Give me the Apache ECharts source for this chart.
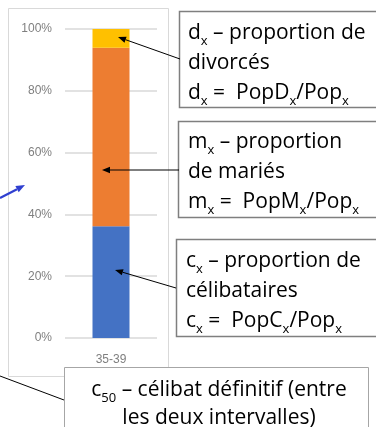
<!DOCTYPE html>
<html>
<head>
<meta charset="utf-8">
<script src="https://cdn.jsdelivr.net/npm/echarts@6/dist/echarts.min.js"></script>
<style>
  html, body { margin: 0; padding: 0; background: #ffffff; }
  #chart { width: 376px; height: 427px; }
</style>
</head>
<body>
<div id="chart"></div>
<script>
// Marital status shares for the 35-39 age group (percent)
const categories = ['35-39'];
const celibataires = [36.2];
const maries = [57.7];
const divorces = [6.1];
const yTicks = [0, 20, 40, 60, 80, 100];

const FONT = 'Open Sans';
const TXT = 21;

const rich = {
  n: { fontFamily: FONT, fontSize: TXT, lineHeight: 30, fill: '#000000' },
  s: { fontFamily: FONT, fontSize: 13, lineHeight: 14, padding: [16, 0, 0, 0], fill: '#000000' }
};
const richTight = {
  n: { fontFamily: FONT, fontSize: TXT, lineHeight: 28, fill: '#000000' },
  s: { fontFamily: FONT, fontSize: 13, lineHeight: 12, padding: [16, 0, 0, 0], fill: '#000000' }
};

function box(x, y, w, h, stroke, lw) {
  return { type: 'rect', shape: { x: x, y: y, width: w, height: h },
    style: { fill: '#ffffff', stroke: stroke, lineWidth: lw }, z: 10 };
}
function label(x, y, text, align, r) {
  return { type: 'text', x: x, y: y, z: 11,
    style: { text: text, rich: r || rich, align: align || 'left', verticalAlign: 'top' } };
}
function arrow(x1, y1, x2, y2, color, lw, head) {
  const ang = Math.atan2(y2 - y1, x2 - x1);
  const len = head || 8, half = len * 0.4;
  const bx = x2 - len * Math.cos(ang), by = y2 - len * Math.sin(ang);
  const px = -Math.sin(ang) * half, py = Math.cos(ang) * half;
  return [
    { type: 'line', z: 12, shape: { x1: x1, y1: y1, x2: bx, y2: by },
      style: { stroke: color, lineWidth: lw } },
    { type: 'polygon', z: 12, shape: { points: [[x2, y2], [bx + px, by + py], [bx - px, by - py]] },
      style: { fill: color } }
  ];
}

const chart = echarts.init(document.getElementById('chart'), null, { renderer: 'canvas' });

const graphics = [
  // chart area frame
  { type: 'rect', shape: { x: 8.5, y: 8.5, width: 160, height: 368 },
    style: { fill: 'none', stroke: '#d9d9d9', lineWidth: 1 }, z: -10 },
  box(179.5, 11.5, 220, 96, '#7f7f7f', 1.5),
  label(188, 18, '{n|d}{s|x}{n| – proportion de}\n{n|divorcés}\n{n|d}{s|x}{n| =  PopD}{s|x}{n|/Pop}{s|x}'),
  box(178.5, 121.5, 220, 96, '#7f7f7f', 1.5),
  label(188, 127, '{n|m}{s|x}{n| – proportion}\n{n|de mariés}\n{n|m}{s|x}{n| =  PopM}{s|x}{n|/Pop}{s|x}'),
  box(176.5, 239.5, 220, 97, '#7f7f7f', 1.5),
  label(186, 246, '{n|c}{s|x}{n| – proportion de}\n{n|célibataires}\n{n|c}{s|x}{n| =  PopC}{s|x}{n|/Pop}{s|x}'),
  box(64.5, 367.5, 304, 80, '#a6a6a6', 1),
  label(219, 376, '{n|c}{s|50}{n| – célibat définitif (entre}\n{n|les deux intervalles)}', 'center', richTight),
  { type: 'line', z: 12, shape: { x1: 0, y1: 376, x2: 64, y2: 400 },
    style: { stroke: '#000000', lineWidth: 1 } }
].concat(
  arrow(180, 59, 118, 37, '#000000', 1, 8),
  arrow(179, 170, 102, 170, '#000000', 1, 8),
  arrow(176, 288, 115, 270, '#000000', 1, 8),
  arrow(0, 198, 25, 185, '#2f3fd0', 2.2, 9)
);

chart.setOption({
  animation: false,
  backgroundColor: '#ffffff',
  grid: { left: 65, right: 219, top: 29, bottom: 89, containLabel: false },
  xAxis: {
    type: 'category',
    data: categories,
    axisLine: { show: false },
    axisTick: { show: false },
    axisLabel: { color: '#7f7f7f', fontFamily: 'Liberation Sans', fontSize: 12, margin: 16 }
  },
  yAxis: {
    type: 'value',
    min: yTicks[0],
    max: yTicks[yTicks.length - 1],
    interval: yTicks[1] - yTicks[0],
    axisLine: { show: false },
    axisTick: { show: false },
    splitLine: { lineStyle: { color: '#d9d9d9', width: 1.5 } },
    axisLabel: { formatter: '{value}%', color: '#7f7f7f', fontFamily: 'Liberation Sans', fontSize: 12, margin: 13 }
  },
  series: [
    { name: 'célibataires', type: 'bar', stack: 'total', data: celibataires, barWidth: 37,
      itemStyle: { color: '#4472c4' } },
    { name: 'mariés', type: 'bar', stack: 'total', data: maries, barWidth: 37,
      itemStyle: { color: '#ed7d31' } },
    { name: 'divorcés', type: 'bar', stack: 'total', data: divorces, barWidth: 37,
      itemStyle: { color: '#ffc000' } }
  ],
  graphic: graphics
});
</script>
</body>
</html>
